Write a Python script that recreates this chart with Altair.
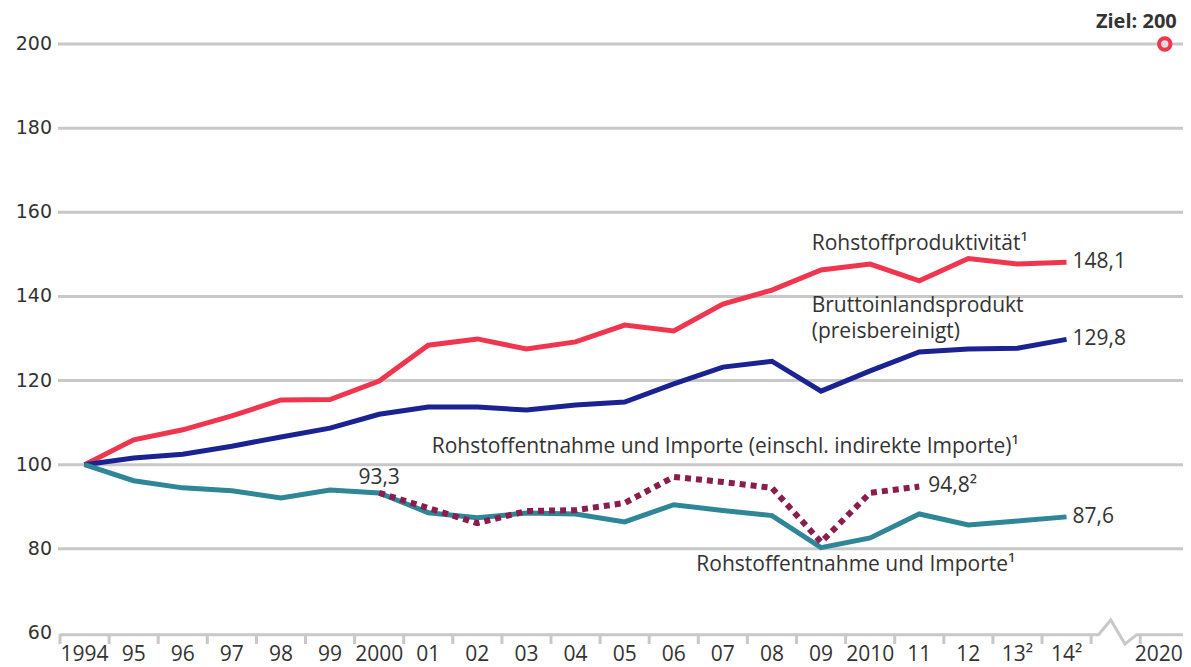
import altair as alt
import pandas as pd

# ---------------- data ----------------
years = list(range(1994, 2015))
year_labels = ["1994", "95", "96", "97", "98", "99", "2000", "01", "02", "03", "04",
               "05", "06", "07", "08", "09", "2010", "11", "12", "13²", "14²"]
target_year_label = "2020"
target_value = 200

produktivitaet = [100.0, 105.9, 108.3, 111.6, 115.4, 115.5, 119.9, 128.4, 129.9, 127.5, 129.2,
                  133.2, 131.8, 138.2, 141.5, 146.3, 147.7, 143.7, 149.0, 147.7, 148.1]
bip = [100.0, 101.6, 102.5, 104.4, 106.6, 108.7, 112.0, 113.7, 113.7, 113.0, 114.2,
       114.9, 119.2, 123.2, 124.6, 117.5, 122.3, 126.8, 127.5, 127.7, 129.8]
entnahme = [100.0, 96.2, 94.5, 93.8, 92.1, 94.0, 93.3, 88.6, 87.4, 88.5, 88.3,
            86.4, 90.5, 89.1, 87.9, 80.3, 82.6, 88.3, 85.7, 86.6, 87.6]
indirekt_years = list(range(2000, 2012))
entnahme_indirekt = [93.3, 89.7, 86.1, 89.0, 89.2, 90.9, 97.1, 95.9, 94.5, 81.6, 93.3, 94.8]

y_ticks = [60, 80, 100, 120, 140, 160, 180, 200]

# axis-break (zigzag) decoration, in axis units
break_pos = [-0.5, 20.65, 20.9, 21.19, 21.43, 22.37]
break_val = [59.6, 59.6, 63.1, 57.4, 59.6, 59.6]

# annotations
ann_text = ["Rohstoffproduktivität¹", "Bruttoinlandsprodukt", "(preisbereinigt)",
            "Rohstoffentnahme und Importe (einschl. indirekte Importe)¹",
            "Rohstoffentnahme und Importe¹"]
ann_pos = [14.81, 14.81, 14.81, 7.07, 12.46]
ann_val = [152.4, 137.8, 131.6, 104.3, 76.2]

# ---------------- helpers ----------------
FONT = "Open Sans"
AXFONT = "DejaVu Sans"
TXT = "#333333"
GRID = "#c8c8c8"
FS = 21
W, H = 1123, 589
XMAX = -0.5 + W / 49.1

def pos_of(year):
    return 22 if year == 2020 else year - 1994

xs = alt.Scale(domain=[-0.5, XMAX], nice=False, zero=False)
ys = alt.Scale(domain=[60, 200], nice=False, zero=False)

def X(f="pos"):
    return alt.X(f"{f}:Q", scale=xs, axis=None)

def Y(f="val"):
    return alt.Y(f"{f}:Q", scale=ys, axis=None)

series_df = lambda vals: pd.DataFrame({"pos": [pos_of(y) for y in years], "val": vals})

# grid
grid_df = pd.DataFrame({"val": [v for v in y_ticks if v != 60]})
grid = alt.Chart(grid_df).mark_rule(color=GRID, strokeWidth=3).encode(
    y=Y(), x=alt.value(-2), x2=alt.value(W))

ylab = alt.Chart(pd.DataFrame({"val": y_ticks, "t": [str(v) for v in y_ticks]})).mark_text(
    align="right", baseline="middle", font=AXFONT, fontSize=19, color=TXT).encode(
    y=Y(), x=alt.value(-8), text="t:N")

# x axis line with break
axis_df = pd.DataFrame({"pos": break_pos, "val": break_val, "o": list(range(len(break_pos)))})
axis_line = alt.Chart(axis_df).mark_line(color=GRID, strokeWidth=3, strokeJoin="miter").encode(
    x=X(), y=Y(), order="o:Q")

all_pos = [pos_of(y) for y in years] + [pos_of(2020)]
tick_pos = sorted(set([p - 0.5 for p in all_pos] + [p + 0.5 for p in all_pos]))
tick_pos = [p for p in tick_pos if p <= XMAX]
ticks = alt.Chart(pd.DataFrame({"pos": tick_pos})).mark_rule(color=GRID, strokeWidth=3).encode(
    x=X(), y=alt.value(H + 1), y2=alt.value(H + 11))

xlab_df = pd.DataFrame({"pos": all_pos[:-1], "t": year_labels})
xlab = alt.Chart(xlab_df).mark_text(baseline="middle", font=FONT, fontSize=FS, color=TXT).encode(
    x=X(), y=alt.value(H + 22), text="t:N")
xlab_last = alt.Chart(pd.DataFrame({"pos": [all_pos[-1]], "t": [target_year_label]})).mark_text(
    baseline="middle", align="right", dx=18, font=FONT, fontSize=FS, color=TXT).encode(
    x=X(), y=alt.value(H + 22), text="t:N")

def line(vals, color):
    return alt.Chart(series_df(vals)).mark_line(color=color, strokeWidth=5, strokeJoin="miter").encode(
        x=X(), y=Y())

red = line(produktivitaet, "#f0364f")
navy = line(bip, "#1b2392")
teal = line(entnahme, "#2e8696")
dotted = alt.Chart(pd.DataFrame({"pos": [pos_of(y) for y in indirekt_years], "val": entnahme_indirekt})).mark_line(
    color="#8a1c4e", strokeWidth=6, strokeDash=[6, 5], strokeCap="butt").encode(x=X(), y=Y())

# end value labels
end_df = pd.DataFrame({"pos": [20, 20, 20], "val": [produktivitaet[-1], bip[-1], entnahme[-1]],
                       "t": ["148,1", "129,8", "87,6"]})
end_lab = alt.Chart(end_df).mark_text(align="left", baseline="middle", dx=6, font=FONT, fontSize=FS,
                                      color=TXT).encode(x=X(), y=Y(), text="t:N")

v2000 = alt.Chart(pd.DataFrame({"pos": [pos_of(2000)], "val": [entnahme_indirekt[0]], "t": ["93,3"]})).mark_text(
    align="center", baseline="middle", dx=0, dy=-15, font=FONT, fontSize=FS, color=TXT).encode(
    x=X(), y=Y(), text="t:N")
v2011 = alt.Chart(pd.DataFrame({"pos": [pos_of(2011)], "val": [entnahme_indirekt[-1]], "t": ["94,8²"]})).mark_text(
    align="left", baseline="middle", dx=9, dy=-1, font=FONT, fontSize=FS, color=TXT).encode(
    x=X(), y=Y(), text="t:N")

ann = alt.Chart(pd.DataFrame({"pos": ann_pos, "val": ann_val, "t": ann_text})).mark_text(
    align="left", baseline="middle", font=FONT, fontSize=FS, color=TXT).encode(
    x=X(), y=Y(), text="t:N")

target_df = pd.DataFrame({"pos": [pos_of(2020)], "val": [target_value], "t": ["Ziel: 200"]})
target_pt = alt.Chart(target_df).mark_point(shape="circle", size=130, filled=True, fill="#dddddd",
                                            stroke="#f0364f", strokeWidth=4, opacity=1).encode(x=X(), y=Y())
target_lab = alt.Chart(target_df).mark_text(align="right", baseline="middle", dx=12, dy=-22,
                                            font=FONT, fontSize=20, fontWeight="bold", color=TXT).encode(
    x=X(), y=Y(), text="t:N")

chart = alt.layer(
    grid, ylab, axis_line, ticks, xlab, xlab_last, red, navy, teal, dotted,
    end_lab, v2000, v2011, ann, target_pt, target_lab
).properties(
    width=W, height=H,
    autosize=alt.AutoSizeParams(type="none"),
    padding={"left": 52, "top": 36, "right": 0, "bottom": 36},
    background="white",
).configure_view(stroke=None)

chart.save("out.html", embed_options={"renderer": "svg", "actions": False})
